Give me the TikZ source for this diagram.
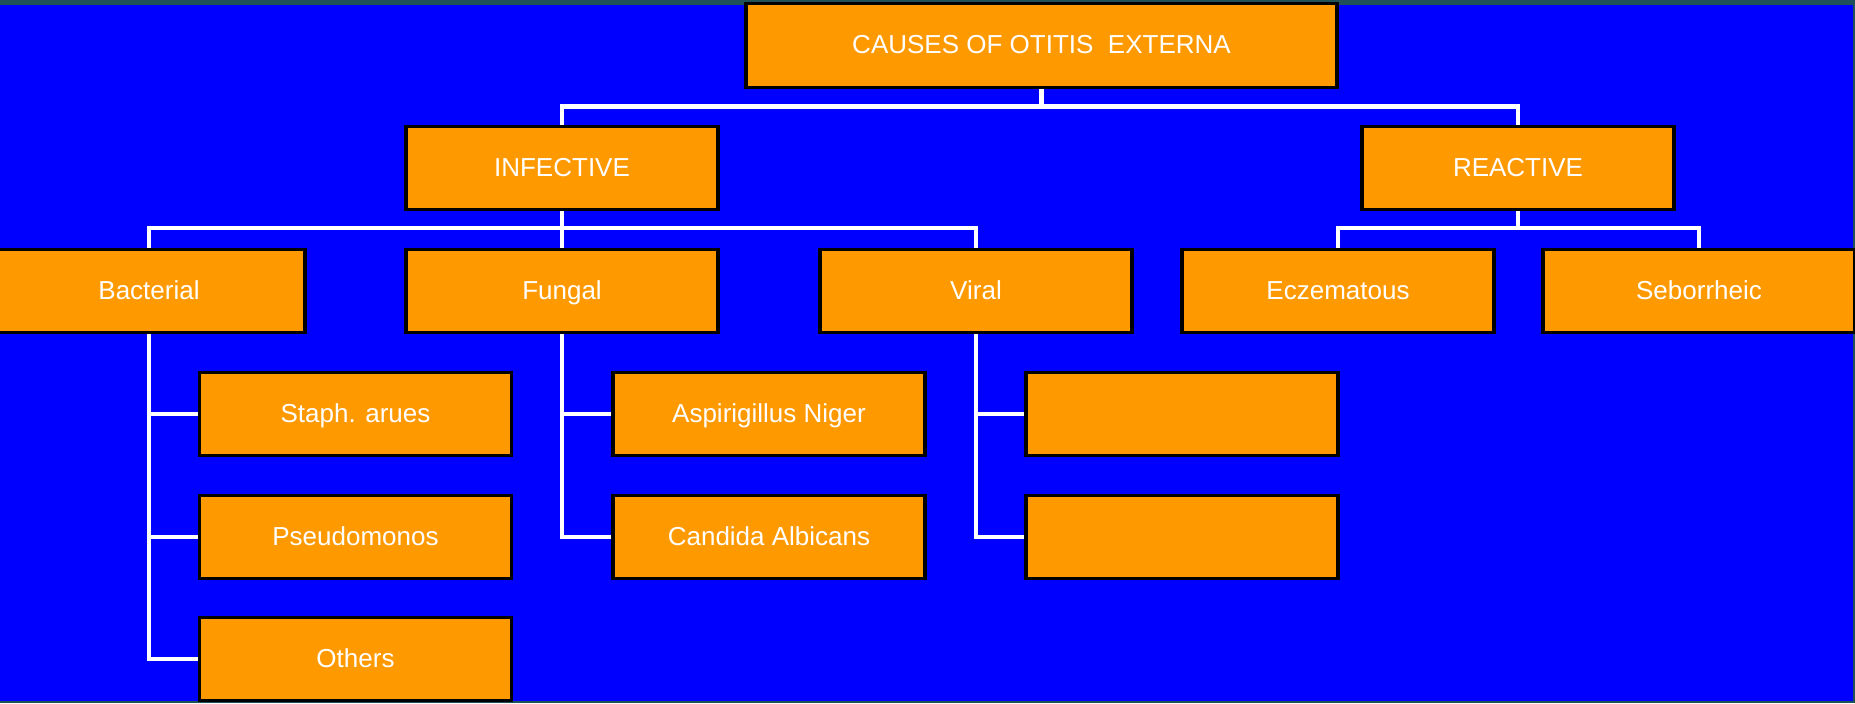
\documentclass[tikz,border=0pt]{standalone}
\usepackage{fontspec}
\setmainfont{Liberation Sans}
\usetikzlibrary{positioning}
\definecolor{slideblue}{RGB}{0,0,255}
\definecolor{boxorange}{RGB}{255,153,0}
\definecolor{edgeteal}{RGB}{32,80,88}
\tikzset{
  box/.style={draw=black, line width=1.8pt, fill=boxorange, text=white,
    minimum width=6.24cm, minimum height=1.66cm, inner sep=0pt,
    text height=10.6pt, text depth=1.2pt,
    font=\fontsize{14.8}{17}\selectfont},
  link/.style={draw=white, line width=2.4pt}
}
\begin{document}
\begin{tikzpicture}[x=0.02cm, y=-0.02cm]
  % Background
  \useasboundingbox (0,0) rectangle (1855,703);
  \fill[edgeteal] (0,0) rectangle (1855,703);
  \fill[slideblue] (0,5) rectangle (1853,701);

  % Top of the tree
  \node[box, minimum width=11.82cm, minimum height=1.68cm] (root) at (1041.5,45.5) {CAUSES OF OTITIS\ \ EXTERNA};
  \node[box] (inf) at (562,168) {INFECTIVE};
  \node[box] (rea) at (1518,168) {REACTIVE};

  % Second row
  \foreach \x/\n/\t in {149/bact/Bacterial, 562/fung/Fungal, 976/vir/Viral, 1338/ecz/Eczematous, 1699/seb/Seborrheic} {
    \node[box] (\n) at (\x,291) {\t};
  }

  % Third row
  \foreach \x/\y/\n/\t in {355.5/414/staph/Staph. arues, 355.5/537/pseudo/Pseudomonos, 355.5/659/others/Others,
                          769/414/asp/Aspirigillus Niger, 769/537/cand/Candida Albicans,
                          1182/414/virA/, 1182/537/virB/} {
    \node[box] (\n) at (\x,\y) {\t};
  }

  % Bus lines
  \coordinate (bus1) at (1041.5,106.5);
  \coordinate (bus2) at (562,228);
  \coordinate (bus3) at (1518,228);
  \draw[link] (root.south) -- (bus1);
  \draw[link] (inf.north) |- (bus1) -| (rea.north);
  \draw[link] (inf.south) -- (bus2);
  \draw[link] (bact.north) |- (bus2) -| (vir.north);
  \draw[link] (bus2) -- (fung.north);
  \draw[link] (rea.south) -- (bus3);
  \draw[link] (ecz.north) |- (bus3) -| (seb.north);

  % Branches to the third row
  \foreach \p/\c in {bact/staph, bact/pseudo, bact/others, fung/asp, fung/cand, vir/virA, vir/virB} {
    \draw[link] (\p.south) |- (\c.west);
  }
\end{tikzpicture}
\end{document}
